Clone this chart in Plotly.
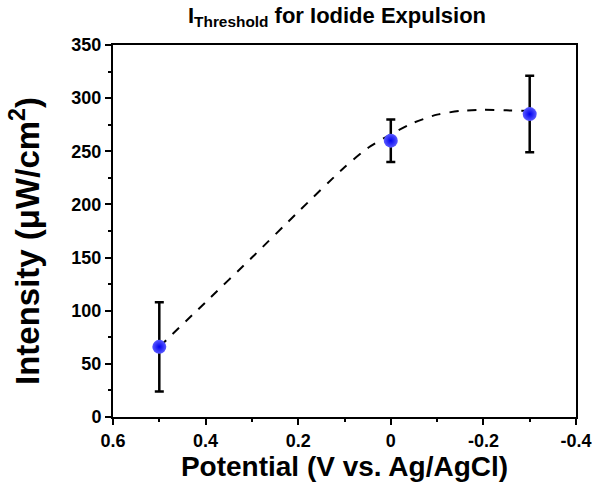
import plotly.graph_objects as go

# measured points
potential = [0.5, 0.0, -0.3]
intensity = [66, 260, 285]
err_plus = [42, 20, 36]
err_minus = [42, 20, 36]

# dashed guide curve
curve_x = [0.5, 0.4, 0.3, 0.2, 0.1, 0.05, 0.0, -0.05, -0.1, -0.15, -0.2, -0.25, -0.3]
curve_y = [66, 108, 150, 193, 235, 253, 266, 277, 284.5, 288, 289, 288.5, 288]

x_tickvals = [0.6, 0.4, 0.2, 0, -0.2, -0.4]
x_ticktext = ["0.6", "0.4", "0.2", "0", "-0.2", "-0.4"]
y_tickvals = [0, 50, 100, 150, 200, 250, 300, 350]

FONT = "Liberation Sans, Arial, sans-serif"
W, H = 592, 486
L, R, T, B = 113, 16, 45, 69

fig = go.Figure()
fig.add_trace(go.Scatter(
    x=curve_x, y=curve_y, mode="lines",
    line=dict(color="black", width=2, dash="dash", shape="spline", smoothing=0.6),
    hoverinfo="skip", showlegend=False))
fig.add_trace(go.Scatter(
    x=potential, y=intensity, mode="markers",
    marker=dict(size=14, color="#5a5aff", line=dict(width=0),
                gradient=dict(type="radial", color="#0000f0")),
    error_y=dict(type="data", array=err_plus, arrayminus=err_minus,
                 color="black", thickness=2.5, width=4.5),
    showlegend=False))

plot_h = H - T - B
fig.update_layout(
    width=W, height=H,
    margin=dict(l=L, r=R, t=T, b=B, autoexpand=False),
    plot_bgcolor="white", paper_bgcolor="white",
    font=dict(family=FONT, color="black"),
    title=dict(text="<b>I<sub>Threshold</sub> for Iodide Expulsion</b>",
               x=337 / W, xanchor="center", y=0.985, yanchor="top",
               font=dict(size=22, family=FONT, color="black", weight="bold")),
    annotations=[dict(
        text="<b>Intensity (</b>μ<b>W/cm<sup>2</sup>)</b>",
        textangle=-90, xref="paper", yref="paper",
        x=(25 - L) / (W - L - R), y=(H - B - 241) / plot_h,
        xanchor="center", yanchor="middle", showarrow=False,
        font=dict(size=33, family=FONT, color="black", weight="bold"))],
)
fig.update_xaxes(
    range=[0.6, -0.4], tickvals=x_tickvals, ticktext=["<b>%s</b>" % t for t in x_ticktext],
    ticks="outside", ticklen=6, tickwidth=2, tickcolor="black",
    minor=dict(dtick=0.1, tick0=0, ticks="outside", ticklen=3, tickwidth=2, tickcolor="black"),
    showline=True, linewidth=2, linecolor="black", mirror=True,
    showgrid=False, zeroline=False, automargin=False, ticklabeloverflow="allow",
    tickfont=dict(size=18, family=FONT, color="black"),
    title=dict(text="<b>Potential (V vs. Ag/AgCl)</b>",
               font=dict(size=28, family=FONT, weight="bold"), standoff=2),
)
fig.update_yaxes(
    range=[0, 350], tickvals=y_tickvals, ticktext=["<b>%d</b>" % v for v in y_tickvals],
    ticks="outside", ticklen=6, tickwidth=2, tickcolor="black",
    minor=dict(dtick=25, tick0=0, ticks="outside", ticklen=3, tickwidth=2, tickcolor="black"),
    showline=True, linewidth=2, linecolor="black", mirror=True,
    showgrid=False, zeroline=False, automargin=False, ticklabeloverflow="allow",
    tickfont=dict(size=18, family=FONT, color="black"),
)

fig.write_html("out.html")
